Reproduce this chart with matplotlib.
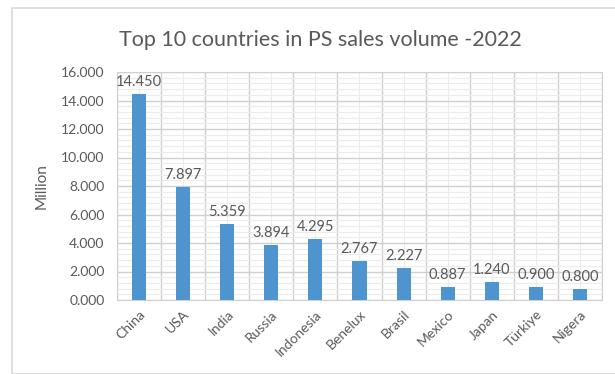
import matplotlib.pyplot as plt
from matplotlib.patches import Rectangle
from matplotlib.ticker import MultipleLocator
import numpy as np

countries = ["China", "USA", "India", "Russia", "Indonesia", "Benelux",
             "Brasil", "Mexico", "Japan", "Türkiye", "Nigera"]
sales = [14.450, 7.897, 5.359, 3.894, 4.295, 2.767, 2.227, 0.887, 1.240, 0.900, 0.800]

plt.rcParams['font.family'] = ['Lato', 'DejaVu Sans']
text_col = '#595959'

fig = plt.figure(figsize=(6.15, 3.74), dpi=100)
fig.patches.append(Rectangle((12 / 615, 0.0), 1.0, 1 - 8 / 374, transform=fig.transFigure,
                             fill=False, edgecolor='#d9d9d9', linewidth=1.2))

ax = fig.add_axes([117 / 615, 74 / 374, 485 / 615, 228 / 374])
x = np.arange(len(countries))
ax.bar(x, sales, width=0.32, color='#4e95d0', zorder=3)

for xi, v in zip(x, sales):
    ax.text(xi, v + 0.35, f"{v:.3f}", ha='center', va='bottom',
            fontsize=10.5, color=text_col, zorder=4)

ax.set_xlim(-0.5, len(countries) - 0.5)
ax.set_ylim(0, 16)
ax.yaxis.set_major_locator(MultipleLocator(2))
ax.yaxis.set_minor_locator(MultipleLocator(0.4))
ax.set_yticklabels([f"{t:.3f}" for t in ax.get_yticks()])
ax.set_xticks(x)
ax.set_xticklabels(countries, rotation=45, ha='right', rotation_mode='anchor')
ax.set_xticks(np.arange(-0.5, len(countries), 1), minor=True)

ax.grid(which='major', axis='y', color='#d0d0d0', linewidth=1.0, zorder=0)
ax.grid(which='minor', axis='y', color='#ececec', linewidth=0.8, zorder=0)
ax.grid(which='minor', axis='x', color='#d0d0d0', linewidth=1.0, zorder=0)
ax.grid(which='major', axis='x', color='#ececec', linewidth=0.8, zorder=0)
ax.set_axisbelow(True)

for s in ax.spines.values():
    s.set_color('#d0d0d0')
ax.tick_params(which='both', length=0, colors=text_col, labelsize=10)
ax.tick_params(axis='x', pad=6, labelsize=10)
ax.tick_params(axis='y', pad=9)

ax.set_ylabel("Million", fontsize=11, color=text_col, labelpad=9)
fig.text(320 / 615, 1 - 40 / 374, "Top 10 countries in PS sales volume -2022",
         ha='center', va='center', fontsize=15.5, color=text_col)

fig.savefig("out.png", dpi=100)
